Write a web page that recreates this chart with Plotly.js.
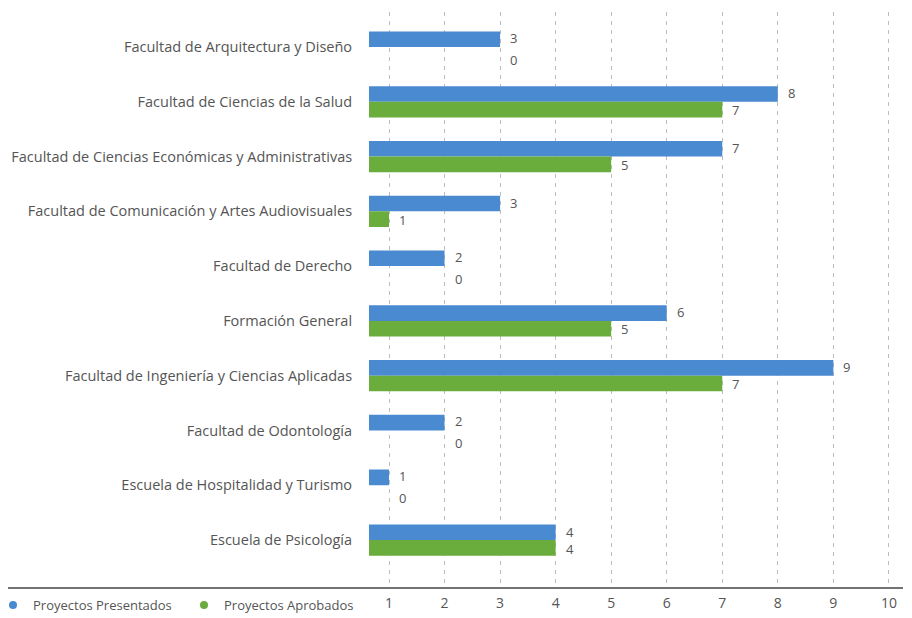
<!DOCTYPE html>
<html>
<head>
<meta charset="utf-8">
<script src="https://cdn.plot.ly/plotly-3.0.1.min.js"></script>
<style>html,body{margin:0;padding:0;background:#fff;}#chart{width:912px;height:618px;}</style>
</head>
<body>
<div id="chart"></div>
<script>
var categories = [
  "Facultad de Arquitectura y Diseño",
  "Facultad de Ciencias de la Salud",
  "Facultad de Ciencias Económicas y Administrativas",
  "Facultad de Comunicación y Artes Audiovisuales",
  "Facultad de Derecho",
  "Formación General",
  "Facultad de Ingeniería y Ciencias Aplicadas",
  "Facultad de Odontología",
  "Escuela de Hospitalidad y Turismo",
  "Escuela de Psicología"
];
var presentados = [3, 8, 7, 3, 2, 6, 9, 2, 1, 4];
var aprobados   = [0, 7, 5, 1, 0, 5, 7, 0, 0, 4];
var xTicks = [1, 2, 3, 4, 5, 6, 7, 8, 9, 10];
var seriesNames = ["Proyectos Presentados", "Proyectos Aprobados"];

var blue = "#4a8ad0", green = "#6aad3c";
var FONT = "Open Sans, sans-serif";

var traces = [
  {type: "bar", orientation: "h", name: seriesNames[0], y: categories, x: presentados,
   marker: {color: blue}, showlegend: false, hoverinfo: "x"},
  {type: "bar", orientation: "h", name: seriesNames[1], y: categories, x: aprobados,
   marker: {color: green}, showlegend: false, hoverinfo: "x"},
  {type: "scatter", mode: "markers", name: seriesNames[0], x: [null], y: [null],
   marker: {color: blue, size: 8}},
  {type: "scatter", mode: "markers", name: seriesNames[1], x: [null], y: [null],
   marker: {color: green, size: 8}}
];

var annotations = [];
categories.forEach(function (c, i) {
  var zero = aprobados[i] === 0;
  annotations.push({x: presentados[i], y: c, text: String(presentados[i]), showarrow: false,
    xanchor: "left", xshift: 8, yshift: zero ? 9 : 8.5, font: {family: FONT, size: 13, color: "#555"}});
  var ax = zero ? presentados[i] : aprobados[i];
  annotations.push({x: ax, y: c, text: String(aprobados[i]), showarrow: false,
    xanchor: "left", xshift: 8, yshift: zero ? -13 : -8.5, font: {family: FONT, size: 13, color: "#555"}});
});

var W = 912, L = 369, R = 7, T = 12, B = 30;
var plotW = W - L - R;

var layout = {
  width: 912, height: 618,
  margin: {l: L, r: R, t: T, b: B, pad: 0, autoexpand: false},
  paper_bgcolor: "#fff", plot_bgcolor: "#fff",
  barmode: "group", bargap: 0.43, bargroupgap: 0,
  font: {family: FONT, color: "#555"},
  xaxis: {range: [0.64, 10.29], tickvals: xTicks, showgrid: true, gridcolor: "#bdbdbd",
    griddash: "4px,5px", gridwidth: 1, zeroline: false, showline: false,
    ticks: "outside", ticklen: 2, tickcolor: "rgba(0,0,0,0)", automargin: false,
    tickfont: {family: FONT, size: 14, color: "#555"}, fixedrange: true},
  yaxis: {type: "category", range: [9.876, -0.639], showgrid: false, zeroline: false,
    showline: false, ticks: "outside", ticklen: 13, tickcolor: "rgba(0,0,0,0)", automargin: false,
    tickfont: {family: FONT, size: 14.5, color: "#555"}, fixedrange: true},
  legend: {orientation: "h", x: (-7 - L) / plotW, xanchor: "left", y: -(605 - (618 - B)) / (618 - B - T),
    yanchor: "middle", entrywidth: 146, font: {family: FONT, size: 13, color: "#555"}, bgcolor: "rgba(0,0,0,0)"},
  shapes: [{type: "line", xref: "paper", yref: "paper", x0: (8 - L) / plotW, x1: (903 - L) / plotW,
    y0: 0, y1: 0, line: {color: "#444", width: 1.5}}],
  annotations: annotations
};

Plotly.newPlot("chart", traces, layout, {displayModeBar: false, staticPlot: true});
</script>
</body>
</html>
